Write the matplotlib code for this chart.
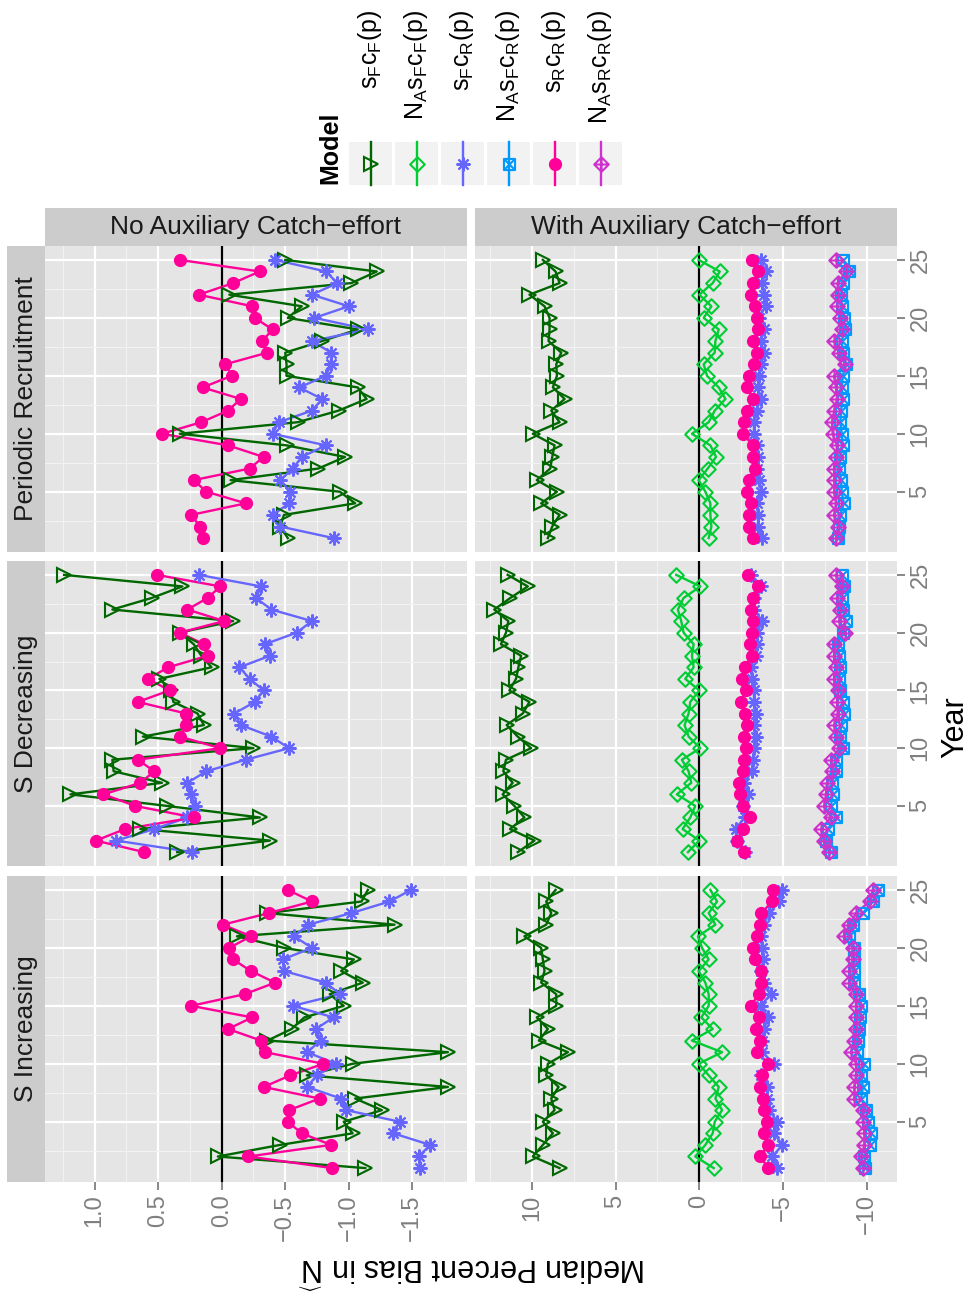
import matplotlib
matplotlib.use("Agg")
import matplotlib.pyplot as plt
from matplotlib.path import Path
from matplotlib.patches import Rectangle

plt.rcParams["font.family"] = ["Liberation Sans", "DejaVu Sans"]
plt.rcParams["mathtext.fontset"] = "custom"
plt.rcParams["mathtext.rm"] = "Liberation Sans"
plt.rcParams["mathtext.it"] = "Liberation Sans:italic"
plt.rcParams["mathtext.bf"] = "Liberation Sans:bold"

W, H = 968, 1305

years = list(range(1, 26))

# --- No auxiliary catch-effort (years 1..25) ---
noaux_periodic_sfcf = [-0.52, -0.46, -0.49, -1.05, -0.93, -0.07, -0.76, -0.97, -0.51, 0.33, -0.60, -0.92, -1.14,
                       -1.07, -0.51, -0.51, -0.50, -0.79, -1.07, -0.52, -0.63, -0.06, -1.02, -1.22, -0.50]
noaux_periodic_sfcr = [-0.88, -0.46, -0.40, -0.53, -0.54, -0.46, -0.56, -0.63, -0.82, -0.40, -0.45, -0.71, -0.79,
                       -0.61, -0.82, -0.86, -0.86, -0.71, -1.15, -0.73, -1.00, -0.71, -0.91, -0.82, -0.42]
noaux_periodic_srcr = [0.15, 0.17, 0.24, -0.19, 0.12, 0.22, -0.22, -0.33, -0.05, 0.47, 0.16, -0.05, -0.15,
                       0.15, -0.08, -0.03, -0.36, -0.32, -0.40, -0.26, -0.24, 0.18, -0.09, -0.30, 0.33]

noaux_sdec_sfcf = [0.35, -0.38, 0.64, -0.30, 0.43, 1.19, 0.47, 0.85, 0.86, -0.25, 0.62, 0.14, 0.19,
                   0.38, 0.40, 0.49, 0.08, 0.16, 0.22, 0.33, -0.09, 0.86, 0.55, 0.31, 1.24]
noaux_sdec_sfcr = [0.23, 0.83, 0.53, 0.27, 0.21, 0.24, 0.27, 0.12, -0.19, -0.53, -0.39, -0.15, -0.10,
                   -0.26, -0.33, -0.22, -0.14, -0.38, -0.34, -0.59, -0.71, -0.39, -0.27, -0.31, 0.18]
noaux_sdec_srcr = [0.61, 0.99, 0.76, 0.22, 0.68, 0.93, 0.64, 0.53, 0.66, 0.01, 0.33, 0.28, 0.28,
                   0.66, 0.41, 0.58, 0.42, 0.11, 0.14, 0.33, -0.02, 0.27, 0.11, 0.01, 0.51]

noaux_sinc_sfcf = [-1.13, 0.03, -0.46, -1.03, -0.96, -1.26, -1.05, -1.78, -0.67, -1.03, -1.78, -0.36, -0.55,
                   -0.65, -0.96, -0.85, -1.11, -0.94, -1.04, -0.49, -0.12, -1.36, -0.36, -1.10, -1.15]
noaux_sinc_sfcr = [-1.56, -1.55, -1.64, -1.35, -1.40, -0.98, -0.94, -0.67, -0.75, -0.90, -0.67, -0.78, -0.74,
                   -0.88, -0.56, -0.93, -0.82, -0.49, -0.48, -0.71, -0.57, -0.68, -1.02, -1.32, -1.49]
noaux_sinc_srcr = [-0.87, -0.21, -0.86, -0.63, -0.52, -0.53, -0.77, -0.33, -0.54, -0.80, -0.34, -0.31, -0.05,
                   -0.24, 0.24, -0.18, -0.42, -0.23, -0.09, -0.06, -0.23, -0.01, -0.37, -0.71, -0.52]

# --- With auxiliary catch-effort (years 1..25) ---
aux_periodic_sfcf = [9.04, 8.78, 8.34, 9.44, 8.5, 9.7, 8.9, 8.78, 8.64, 9.94, 8.34, 8.84, 8.04,
                     8.74, 8.5, 8.54, 8.24, 9.0, 8.94, 8.94, 9.24, 10.14, 8.34, 8.58, 9.34]
aux_periodic_nasfcf = [-0.56, -0.72, -0.66, -0.66, -0.36, 0.04, -0.5, -1.0, -0.66, 0.44, -0.56, -0.92, -1.56,
                       -1.16, -0.46, -0.26, -0.92, -0.96, -1.16, -0.26, -0.72, 0.0, -0.8, -1.22, 0.04]
aux_periodic_sfcr = [-3.76, -3.5, -3.5, -3.46, -3.7, -3.56, -3.46, -3.5, -3.46, -3.26, -3.26, -3.42, -3.66,
                     -3.5, -3.56, -3.66, -3.86, -3.66, -3.86, -3.56, -3.96, -3.86, -3.76, -3.96, -3.66]
aux_periodic_nasfcr = [-8.3, -8.36, -8.42, -8.62, -8.5, -8.46, -8.36, -8.42, -8.56, -8.5, -8.42, -8.46, -8.56,
                       -8.5, -8.56, -8.76, -8.56, -8.5, -8.7, -8.62, -8.5, -8.46, -8.56, -8.96, -8.56]
aux_periodic_srcr = [-3.18, -2.96, -2.94, -3.06, -2.82, -2.96, -3.3, -3.2, -3.2, -2.6, -2.66, -2.86, -3.2,
                     -2.86, -2.96, -3.26, -3.42, -3.2, -3.5, -3.42, -3.32, -3.06, -3.22, -3.5, -3.16]
aux_periodic_nasrcr = [-8.16, -8.3, -8.06, -8.16, -8.06, -8.06, -8.06, -8.16, -8.22, -7.96, -7.92, -8.06, -8.22,
                       -8.16, -8.06, -8.7, -8.36, -8.06, -8.5, -8.42, -8.22, -8.26, -8.26, -8.76, -8.16]

aux_sdec_sfcf = [10.84, 9.84, 11.3, 10.44, 11.04, 11.74, 11.14, 11.7, 11.54, 10.04, 10.84, 11.5, 10.54,
                 10.14, 11.34, 10.94, 10.8, 10.64, 11.84, 11.54, 11.4, 12.24, 11.28, 10.24, 11.44]
aux_sdec_nasfcf = [0.68, 0.0, 1.0, 0.54, 0.24, 1.34, 0.48, 0.64, 1.04, -0.06, 0.64, 0.88, 0.64,
                   0.54, 0.0, 0.84, 0.34, 0.44, 0.34, 0.94, 1.08, 1.28, 0.94, -0.06, 1.38]
aux_sdec_sfcr = [-2.7, -2.22, -2.16, -2.7, -2.62, -2.9, -2.66, -3.16, -3.22, -3.26, -3.36, -3.26, -3.36,
                 -3.26, -3.26, -3.16, -3.06, -3.36, -3.42, -3.46, -3.76, -3.26, -3.26, -3.66, -3.06]
aux_sdec_nasfcr = [-7.86, -7.56, -7.66, -8.16, -7.86, -7.96, -7.9, -8.16, -8.16, -8.56, -8.42, -8.46, -8.66,
                   -8.56, -8.42, -8.36, -8.42, -8.36, -8.26, -8.56, -8.76, -8.56, -8.5, -8.66, -8.5]
aux_sdec_srcr = [-2.66, -2.26, -2.6, -3.02, -2.6, -2.42, -2.36, -2.62, -2.66, -2.8, -2.66, -2.82, -2.72,
                 -2.5, -2.76, -2.56, -2.7, -3.12, -3.0, -3.16, -3.22, -3.06, -3.22, -3.52, -2.92]
aux_sdec_nasrcr = [-7.76, -7.42, -7.26, -7.86, -7.46, -7.56, -7.62, -7.9, -7.86, -8.36, -8.16, -8.06, -8.26,
                   -8.22, -8.26, -8.06, -8.16, -8.06, -8.06, -8.7, -8.36, -8.42, -8.22, -8.5, -8.16]

aux_sinc_sfcf = [8.34, 9.94, 9.34, 8.74, 9.34, 8.64, 8.84, 8.4, 9.14, 9.04, 7.84, 9.58, 9.04,
                 9.7, 8.54, 8.54, 9.44, 9.24, 9.34, 9.44, 10.44, 9.14, 8.84, 9.14, 8.58]
aux_sinc_nasfcf = [-0.86, 0.24, -0.36, -0.8, -0.92, -1.36, -0.96, -1.16, -0.56, 0.04, -1.36, 0.44, -0.8,
                   -0.12, -0.56, -0.56, -0.36, 0.04, -0.56, -0.16, 0.08, -0.96, -0.56, -1.06, -0.66]
aux_sinc_sfcr = [-4.66, -4.36, -4.96, -4.46, -4.66, -4.16, -4.06, -4.06, -3.7, -4.46, -3.76, -3.76, -3.86,
                 -4.12, -3.66, -4.26, -3.86, -3.7, -3.82, -3.76, -3.66, -3.86, -4.16, -4.76, -4.96]
aux_sinc_nasfcr = [-9.9, -9.86, -10.16, -10.26, -10.06, -9.96, -9.66, -9.76, -9.66, -9.86, -9.42, -9.46, -9.56,
                   -9.62, -9.66, -9.56, -9.22, -9.26, -9.26, -9.26, -8.96, -9.16, -9.76, -10.36, -10.66]
aux_sinc_srcr = [-4.12, -3.62, -4.12, -3.86, -4.02, -3.86, -3.8, -3.6, -3.72, -4.12, -3.46, -3.6, -3.36,
                 -3.56, -3.06, -3.56, -3.7, -3.7, -3.32, -3.2, -3.46, -3.62, -3.7, -4.36, -4.42]
aux_sinc_nasrcr = [-9.76, -9.66, -9.86, -9.86, -9.76, -9.76, -9.26, -9.26, -9.36, -9.36, -9.06, -9.26, -9.36,
                   -9.36, -9.36, -9.36, -8.96, -8.96, -9.16, -9.16, -8.62, -8.96, -9.36, -10.16, -10.36]

models = ["sFcF", "NAsFcF", "sFcR", "NAsFcR", "sRcR", "NAsRcR"]
model_labels = [r"$\mathrm{s_Fc_F(p)}$", r"$\mathrm{N_As_Fc_F(p)}$", r"$\mathrm{s_Fc_R(p)}$",
                r"$\mathrm{N_As_Fc_R(p)}$", r"$\mathrm{s_Rc_R(p)}$", r"$\mathrm{N_As_Rc_R(p)}$"]
scenarios = ["Periodic Recruitment", "S Decreasing", "S Increasing"]
columns = ["No Auxiliary Catch\u2212effort", "With Auxiliary Catch\u2212effort"]

panels = {
    (0, 0): {"sFcF": noaux_periodic_sfcf, "sFcR": noaux_periodic_sfcr, "sRcR": noaux_periodic_srcr},
    (1, 0): {"sFcF": noaux_sdec_sfcf, "sFcR": noaux_sdec_sfcr, "sRcR": noaux_sdec_srcr},
    (2, 0): {"sFcF": noaux_sinc_sfcf, "sFcR": noaux_sinc_sfcr, "sRcR": noaux_sinc_srcr},
    (0, 1): {"sFcF": aux_periodic_sfcf, "NAsFcF": aux_periodic_nasfcf, "sFcR": aux_periodic_sfcr,
             "NAsFcR": aux_periodic_nasfcr, "sRcR": aux_periodic_srcr, "NAsRcR": aux_periodic_nasrcr},
    (1, 1): {"sFcF": aux_sdec_sfcf, "NAsFcF": aux_sdec_nasfcf, "sFcR": aux_sdec_sfcr,
             "NAsFcR": aux_sdec_nasfcr, "sRcR": aux_sdec_srcr, "NAsRcR": aux_sdec_nasrcr},
    (2, 1): {"sFcF": aux_sinc_sfcf, "NAsFcF": aux_sinc_nasfcf, "sFcR": aux_sinc_sfcr,
             "NAsFcR": aux_sinc_nasfcr, "sRcR": aux_sinc_srcr, "NAsRcR": aux_sinc_nasrcr},
}

# marker shapes (ggplot-like)
diamond = Path([(0, 1), (1, 0), (0, -1), (-1, 0), (0, 1)],
               [Path.MOVETO, Path.LINETO, Path.LINETO, Path.LINETO, Path.CLOSEPOLY])
diamond_plus = Path([(0, 1), (1, 0), (0, -1), (-1, 0), (0, 1), (0, 1), (0, -1), (-1, 0), (1, 0)],
                    [Path.MOVETO, Path.LINETO, Path.LINETO, Path.LINETO, Path.CLOSEPOLY,
                     Path.MOVETO, Path.LINETO, Path.MOVETO, Path.LINETO])
square_cross = Path([(-1, -1), (1, -1), (1, 1), (-1, 1), (-1, -1), (-1, -1), (1, 1), (-1, 1), (1, -1)],
                    [Path.MOVETO, Path.LINETO, Path.LINETO, Path.LINETO, Path.CLOSEPOLY,
                     Path.MOVETO, Path.LINETO, Path.MOVETO, Path.LINETO])

styles = {
    "sFcF": dict(color="#006600", marker=">", ms=10, mfc="none"),
    "NAsFcF": dict(color="#00CC33", marker=diamond, ms=10.5, mfc="none"),
    "sFcR": dict(color="#6666FF", marker=(8, 2, 0), ms=10, mfc="none"),
    "NAsFcR": dict(color="#0099FF", marker=square_cross, ms=8, mfc="none"),
    "sRcR": dict(color="#FF0099", marker="o", ms=8, mfc="#FF0099"),
    "NAsRcR": dict(color="#CC33CC", marker=diamond_plus, ms=10.5, mfc="none"),
}

row_px = [(246, 552), (561, 866), (876, 1182)]
col_px = [(45, 467), (475, 897)]
xlims = [(1.39, -1.93), (13.39, -11.8)]
x_major = [[1.0, 0.5, 0.0, -0.5, -1.0, -1.5], [10, 5, 0, -5, -10]]
x_minor = [[1.25, 0.75, 0.25, -0.25, -0.75, -1.25, -1.75], [12.5, 7.5, 2.5, -2.5, -7.5]]
x_ticklabels = [["1.0", "0.5", "0.0", "\u22120.5", "\u22121.0", "\u22121.5"],
                ["10", "5", "0", "\u22125", "\u221210"]]
year_major = [5, 10, 15, 20, 25]
year_minor = [2.5, 7.5, 12.5, 17.5, 22.5]

GREY = "#7F7F7F"


def px_box(x0, y0, x1, y1):
    return [x0 / W, 1 - y1 / H, (x1 - x0) / W, (y1 - y0) / H]


fig = plt.figure(figsize=(W / 100, H / 100), dpi=100)

for r, (y0, y1) in enumerate(row_px):
    for c, (x0, x1) in enumerate(col_px):
        ax = fig.add_axes(px_box(x0, y0, x1, y1))
        ax.set_facecolor("#E5E5E5")
        for sp in ax.spines.values():
            sp.set_visible(False)
        ax.set_xlim(*xlims[c])
        ax.set_ylim(-0.2, 26.2)
        ax.set_xticks(x_major[c])
        ax.set_xticks(x_minor[c], minor=True)
        ax.set_yticks(year_major)
        ax.set_yticks(year_minor, minor=True)
        ax.grid(which="major", color="white", lw=1.6)
        ax.grid(which="minor", color="#F2F2F2", lw=0.8)
        ax.set_axisbelow(True)
        ax.axvline(0, color="black", lw=1.6, zorder=2)

        data = panels[(r, c)]
        for m in models:
            if m in data:
                ax.plot(data[m], years, color=styles[m]["color"], lw=1.7, zorder=3)
        for m in models:
            if m in data:
                st = styles[m]
                ax.plot(data[m], years, ls="none", marker=st["marker"], ms=st["ms"],
                        mfc=st["mfc"], mec=st["color"], mew=1.5, zorder=4)

        ax.tick_params(which="minor", length=0)
        if r == 2:
            ax.set_xticklabels(x_ticklabels[c])
            ax.tick_params(axis="x", which="major", length=6, width=1.3, color=GREY,
                           labelcolor=GREY, labelsize=17, labelrotation=90, pad=3)
        else:
            ax.tick_params(axis="x", which="major", length=0, labelbottom=False)
        if c == 1:
            ax.yaxis.tick_right()
            ax.tick_params(axis="y", which="major", length=6, width=1.3, color=GREY,
                           labelcolor=GREY, labelsize=17, labelrotation=90, pad=3)
            for lab in ax.get_yticklabels():
                lab.set_va("center")
        else:
            ax.tick_params(axis="y", which="major", length=0, labelleft=False)

# overlay in pixel coordinates for strips and legend
ov = fig.add_axes([0, 0, 1, 1])
ov.set_xlim(0, W)
ov.set_ylim(H, 0)
ov.axis("off")

for c, (x0, x1) in enumerate(col_px):
    ov.add_patch(Rectangle((x0, 208), x1 - x0, 38, color="#CCCCCC", lw=0))
    ov.text((x0 + x1) / 2, 227, columns[c], ha="center", va="center", fontsize=19, color="#1A1A1A")

for r, (y0, y1) in enumerate(row_px):
    ov.add_patch(Rectangle((7, y0), 38, y1 - y0, color="#CCCCCC", lw=0))
    ov.text(26, (y0 + y1) / 2, scenarios[r], ha="center", va="center", rotation=90,
            fontsize=19, color="#1A1A1A")

# legend
ov.text(330, 148, "Model", ha="center", va="center", rotation=90, fontsize=18, fontweight="bold")
for i, m in enumerate(models):
    kx = 349 + 46 * i
    cx = kx + 21.5
    st = styles[m]
    ov.add_patch(Rectangle((kx, 142), 43, 43, color="#F2F2F2", lw=0))
    ov.plot([cx, cx], [142, 185], color=st["color"], lw=1.7)
    ov.plot([cx], [163.5], ls="none", marker=st["marker"], ms=st["ms"], mfc=st["mfc"],
            mec=st["color"], mew=1.5)
    ov.text(cx, 10, model_labels[i], ha="center", va="top", rotation=90, fontsize=18)

fig.text(472 / W, 1 - 1268 / H, r"Median Percent Bias in $\widehat{\mathrm{N}}$", rotation=180,
         ha="center", va="center", fontsize=22)
fig.text(955 / W, 1 - 727 / H, "Year", rotation=90, ha="center", va="center", fontsize=22)

fig.savefig("out.png", dpi=100, facecolor="white")
